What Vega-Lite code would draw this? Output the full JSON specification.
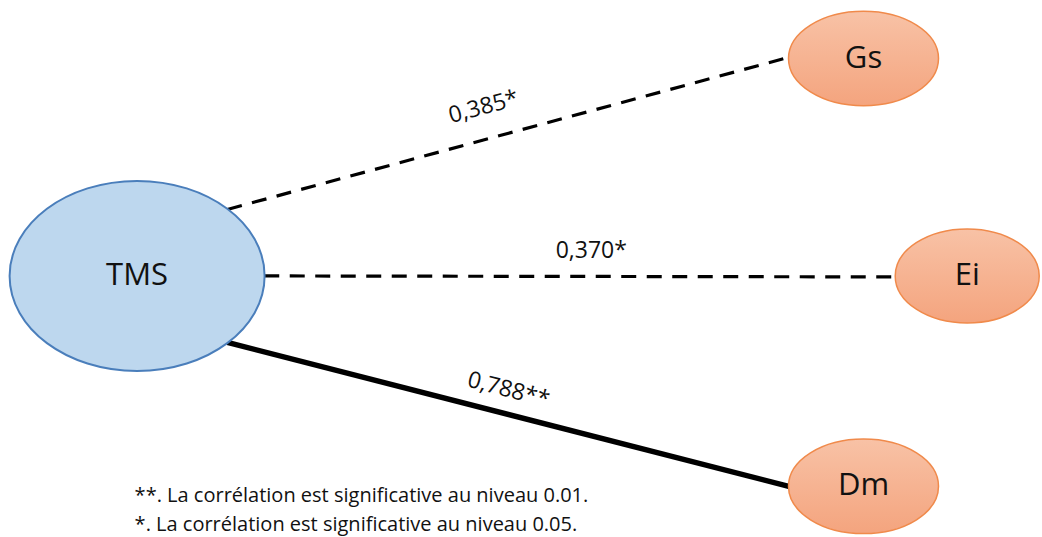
{
  "$schema": "https://vega.github.io/schema/vega-lite/v6.json",
  "width": 1042,
  "height": 537,
  "autosize": {"type": "fit", "contains": "padding"},
  "padding": 0,
  "background": "white",
  "config": {"view": {"stroke": null}, "font": "Open Sans"},
  "datasets": {
    "edges": [
      {"from": "TMS", "to": "Gs", "x": 228, "y": 211, "x2": 790, "y2": 58, "r": "0,385*", "lx": 485, "ly": 108, "sig": "0.05"},
      {"from": "TMS", "to": "Ei", "x": 265, "y": 278, "x2": 898, "y2": 279, "r": "0,370*", "lx": 593, "ly": 253, "sig": "0.05"},
      {"from": "TMS", "to": "Dm", "x": 228, "y": 345, "x2": 791, "y2": 490, "r": "0,788**", "lx": 510, "ly": 393, "sig": "0.01"}
    ],
    "nodes": [
      {"node": "TMS", "x": 137.5, "y": 278, "role": "source"},
      {"node": "Gs", "x": 866, "y": 59, "role": "target"},
      {"node": "Ei", "x": 970, "y": 278, "role": "target"},
      {"node": "Dm", "x": 866, "y": 490, "role": "target"}
    ],
    "notes": [
      {"note": "**. La corrélation est significative au niveau 0.01.", "x": 135, "y": 500},
      {"note": "*. La corrélation est significative au niveau 0.05.", "x": 135, "y": 529}
    ]
  },
  "encoding": {
    "x": {"type": "quantitative", "scale": {"domain": [0, 1042], "nice": false, "zero": false}, "axis": null},
    "y": {"type": "quantitative", "scale": {"domain": [0, 537], "reverse": true, "nice": false, "zero": false}, "axis": null}
  },
  "layer": [
    {
      "data": {"name": "edges"},
      "transform": [{"filter": "datum.sig == '0.05'"}],
      "mark": {"type": "rule", "color": "#000000", "strokeWidth": 3.2, "strokeDash": [15, 10.5]},
      "encoding": {"x": {"field": "x"}, "y": {"field": "y"}, "x2": {"field": "x2"}, "y2": {"field": "y2"}}
    },
    {
      "data": {"name": "edges"},
      "transform": [{"filter": "datum.sig == '0.01'"}],
      "mark": {"type": "rule", "color": "#000000", "strokeWidth": 5.5},
      "encoding": {"x": {"field": "x"}, "y": {"field": "y"}, "x2": {"field": "x2"}, "y2": {"field": "y2"}}
    },
    {
      "data": {"name": "nodes"},
      "transform": [{"filter": "datum.role == 'source'"}],
      "mark": {
        "type": "point", "filled": true, "opacity": 1, "fillOpacity": 1,
        "shape": "M1,0C1,0.4115 0.5523,0.745 0,0.745C-0.5523,0.745 -1,0.4115 -1,0C-1,-0.4115 -0.5523,-0.745 0,-0.745C0.5523,-0.745 1,-0.4115 1,0Z",
        "size": 65025, "fill": "#BDD7EE", "stroke": "#4A7EBB", "strokeWidth": 2
      },
      "encoding": {"x": {"field": "x"}, "y": {"field": "y"}}
    },
    {
      "data": {"name": "nodes"},
      "transform": [{"filter": "datum.role == 'target' && datum.node != 'Ei'"}],
      "mark": {
        "type": "point", "filled": true, "opacity": 1, "fillOpacity": 1,
        "shape": "M1,0C1,0.3479 0.5523,0.63 0,0.63C-0.5523,0.63 -1,0.3479 -1,0C-1,-0.3479 -0.5523,-0.63 0,-0.63C0.5523,-0.63 1,-0.3479 1,0Z",
        "size": 22500,
        "fill": {"gradient": "linear", "x1": 0, "y1": 0, "x2": 0, "y2": 1, "stops": [{"offset": 0, "color": "#F8C2A6"}, {"offset": 1, "color": "#F4A47E"}]},
        "stroke": "#F08A4B", "strokeWidth": 1.5
      },
      "encoding": {"x": {"field": "x"}, "y": {"field": "y"}}
    },
    {
      "data": {"name": "nodes"},
      "transform": [{"filter": "datum.node == 'Ei'"}],
      "mark": {
        "type": "point", "filled": true, "opacity": 1, "fillOpacity": 1,
        "shape": "M1,0C1,0.3607 0.5523,0.653 0,0.653C-0.5523,0.653 -1,0.3607 -1,0C-1,-0.3607 -0.5523,-0.653 0,-0.653C0.5523,-0.653 1,-0.3607 1,0Z",
        "size": 20736,
        "fill": {"gradient": "linear", "x1": 0, "y1": 0, "x2": 0, "y2": 1, "stops": [{"offset": 0, "color": "#F8C2A6"}, {"offset": 1, "color": "#F4A47E"}]},
        "stroke": "#F08A4B", "strokeWidth": 1.5
      },
      "encoding": {"x": {"field": "x"}, "y": {"field": "y"}}
    },
    {
      "data": {"name": "nodes"},
      "mark": {"type": "text", "fontSize": 31, "color": "#111111", "align": "center", "baseline": "middle"},
      "encoding": {"x": {"field": "x"}, "y": {"field": "y"}, "text": {"field": "node"}}
    },
    {
      "data": {"name": "edges"},
      "transform": [{"filter": "datum.to == 'Gs'"}],
      "mark": {"type": "text", "fontSize": 23, "color": "#111111", "align": "center", "baseline": "middle", "angle": 345},
      "encoding": {"x": {"field": "lx"}, "y": {"field": "ly"}, "text": {"field": "r"}}
    },
    {
      "data": {"name": "edges"},
      "transform": [{"filter": "datum.to == 'Ei'"}],
      "mark": {"type": "text", "fontSize": 23, "color": "#111111", "align": "center", "baseline": "middle"},
      "encoding": {"x": {"field": "lx"}, "y": {"field": "ly"}, "text": {"field": "r"}}
    },
    {
      "data": {"name": "edges"},
      "transform": [{"filter": "datum.to == 'Dm'"}],
      "mark": {"type": "text", "fontSize": 23, "color": "#111111", "align": "center", "baseline": "middle", "angle": 14.5},
      "encoding": {"x": {"field": "lx"}, "y": {"field": "ly"}, "text": {"field": "r"}}
    },
    {
      "data": {"name": "notes"},
      "mark": {"type": "text", "fontSize": 20, "color": "#111111", "align": "left", "baseline": "middle"},
      "encoding": {"x": {"field": "x"}, "y": {"field": "y"}, "text": {"field": "note"}}
    }
  ]
}
